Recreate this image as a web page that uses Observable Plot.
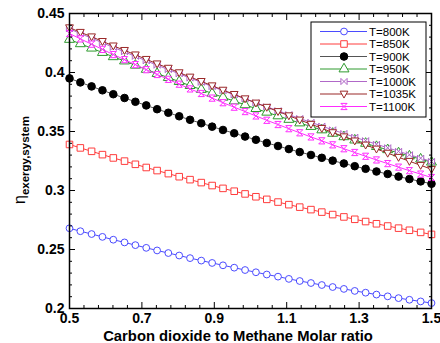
<!DOCTYPE html>
<html><head><meta charset="utf-8">
<script src="https://cdn.jsdelivr.net/npm/d3@7"></script>
<script src="https://cdn.jsdelivr.net/npm/@observablehq/plot@0.6"></script>
<style>body{margin:0;background:#fff;} #c{position:relative;width:440px;height:343px;}</style>
</head><body><div id="c"></div>
<script>
const ratio = [0.5,0.530,0.561,0.591,0.621,0.652,0.682,0.712,0.742,0.773,0.803,0.833,0.864,0.894,0.924,0.955,0.985,1.015,1.045,1.076,1.106,1.136,1.167,1.197,1.227,1.258,1.288,1.318,1.348,1.379,1.409,1.439,1.470,1.5];
const T800 = [0.2680,0.2655,0.2631,0.2607,0.2583,0.2560,0.2537,0.2514,0.2492,0.2470,0.2449,0.2427,0.2406,0.2386,0.2366,0.2346,0.2326,0.2307,0.2288,0.2270,0.2251,0.2233,0.2216,0.2199,0.2182,0.2166,0.2149,0.2134,0.2118,0.2103,0.2088,0.2074,0.2060,0.2046];
const T850 = [0.3390,0.3361,0.3332,0.3304,0.3276,0.3249,0.3222,0.3195,0.3169,0.3143,0.3117,0.3092,0.3067,0.3042,0.3018,0.2994,0.2971,0.2947,0.2925,0.2902,0.2880,0.2859,0.2838,0.2817,0.2796,0.2776,0.2756,0.2737,0.2718,0.2699,0.2681,0.2663,0.2645,0.2628];
const T900 = [0.3950,0.3916,0.3882,0.3849,0.3816,0.3784,0.3752,0.3721,0.3689,0.3659,0.3629,0.3599,0.3570,0.3541,0.3513,0.3485,0.3457,0.3430,0.3403,0.3377,0.3351,0.3326,0.3301,0.3277,0.3253,0.3229,0.3206,0.3184,0.3161,0.3140,0.3118,0.3097,0.3077,0.3057];
const T950 = [0.4280,0.4243,0.4206,0.4169,0.4133,0.4097,0.4061,0.4026,0.3991,0.3957,0.3923,0.3889,0.3856,0.3823,0.3790,0.3758,0.3726,0.3694,0.3663,0.3632,0.3602,0.3572,0.3542,0.3513,0.3484,0.3455,0.3427,0.3399,0.3372,0.3345,0.3318,0.3292,0.3266,0.3240];
const T1000 = [0.4370,0.4330,0.4291,0.4252,0.4213,0.4175,0.4137,0.4099,0.4062,0.4025,0.3989,0.3953,0.3917,0.3881,0.3846,0.3811,0.3777,0.3743,0.3709,0.3676,0.3643,0.3610,0.3578,0.3546,0.3514,0.3483,0.3452,0.3422,0.3392,0.3362,0.3332,0.3303,0.3274,0.3246];
const T1035 = [0.4380,0.4341,0.4303,0.4264,0.4226,0.4188,0.4150,0.4112,0.4074,0.4037,0.3999,0.3962,0.3925,0.3888,0.3851,0.3815,0.3778,0.3742,0.3706,0.3670,0.3634,0.3598,0.3562,0.3527,0.3491,0.3456,0.3421,0.3386,0.3352,0.3317,0.3282,0.3248,0.3214,0.3180];
const T1100 = [0.4330,0.4285,0.4240,0.4196,0.4152,0.4109,0.4067,0.4024,0.3983,0.3942,0.3901,0.3861,0.3822,0.3783,0.3744,0.3706,0.3669,0.3632,0.3595,0.3559,0.3524,0.3489,0.3454,0.3421,0.3387,0.3354,0.3322,0.3290,0.3259,0.3228,0.3198,0.3168,0.3139,0.3110];
const seriesNames = ["T=800K","T=850K","T=900K","T=950K","T=1000K","T=1035K","T=1100K"];
const xMajorTicks = [0.5,0.7,0.9,1.1,1.3,1.5];
const xMinorTicks = [0.54,0.58,0.62,0.66,0.74,0.78,0.82,0.86,0.94,0.98,1.02,1.06,1.14,1.18,1.22,1.26,1.34,1.38,1.42,1.46];
const yMajorTicks = [0.2,0.25,0.3,0.35,0.4,0.45];
const yMinorTicks = [0.21,0.22,0.23,0.24,0.26,0.27,0.28,0.29,0.31,0.32,0.33,0.34,0.36,0.37,0.38,0.39,0.41,0.42,0.43,0.44];
const xTitle = "Carbon dioxide to Methane Molar ratio";
const yTitleMain = "η";
const yTitleSub = "exergy,system";

const seriesValues = [T800,T850,T900,T950,T1000,T1035,T1100];

// custom symbols
const triDown = {draw(ctx, size){const r=Math.sqrt(size)*0.62; ctx.moveTo(0,r); ctx.lineTo(r*0.95,-r*0.7); ctx.lineTo(-r*0.95,-r*0.7); ctx.closePath();}};
const bowtieH = {draw(ctx, size){const r=Math.sqrt(size)*0.5; ctx.moveTo(-r,-r); ctx.lineTo(r,r); ctx.lineTo(r,-r); ctx.lineTo(-r,r); ctx.closePath();}};
const hourglass = {draw(ctx, size){const r=Math.sqrt(size)*0.5; ctx.moveTo(-r,-r); ctx.lineTo(r,-r); ctx.lineTo(-r,r); ctx.lineTo(r,r); ctx.closePath();}};

const styles = [
  {color:"#4b4bff", symbol:"circle", fill:"white", r:3.4},
  {color:"#ff3c3c", symbol:"square", fill:"white", r:3.7},
  {color:"#000000", symbol:"circle", fill:"black", r:3.8, line:"#555"},
  {color:"#2e9a2e", symbol:"triangle", fill:"white", r:3.7},
  {color:"#b068c8", symbol:bowtieH, fill:"white", r:3.5},
  {color:"#9a2828", symbol:triDown, fill:"white", r:3.7},
  {color:"#ff2cff", symbol:hourglass, fill:"white", r:3.5}
];

const tables = seriesValues.map((vals, k) => ratio.map((x, i) => ({x, y: vals[i], s: seriesNames[k]})));

const font = "'Liberation Sans', Arial, sans-serif";
const marks = [];
tables.forEach((tb, k) => {
  const st = styles[k];
  marks.push(Plot.line(tb, {x:"x", y:"y", stroke: st.line || st.color, strokeWidth: 1}));
  marks.push(Plot.dot(tb, {x:"x", y:"y", symbol: st.symbol, r: st.r, stroke: st.color, fill: st.fill, strokeWidth: 1}));
});

const noText = () => "";
const plot = Plot.plot({
  width: 440, height: 343,
  marginLeft: 69, marginRight: 9, marginTop: 13, marginBottom: 35,
  style: {fontFamily: font, background: "white"},
  x: {domain: [0.5, 1.5], label: null},
  y: {domain: [0.2, 0.45], label: null},
  marks: [
    ...marks,
    Plot.axisX({anchor:"bottom", ticks: xMajorTicks, tickSize: -6, tickFormat: noText, label: null}),
    Plot.axisX({anchor:"bottom", ticks: xMinorTicks, tickSize: -3, tickFormat: noText, label: null}),
    Plot.axisX({anchor:"top", ticks: xMajorTicks, tickSize: -6, tickFormat: noText, label: null}),
    Plot.axisX({anchor:"top", ticks: xMinorTicks, tickSize: -3, tickFormat: noText, label: null}),
    Plot.axisY({anchor:"left", ticks: yMajorTicks, tickSize: -6, tickFormat: noText, label: null}),
    Plot.axisY({anchor:"left", ticks: yMinorTicks, tickSize: -3, tickFormat: noText, label: null}),
    Plot.axisY({anchor:"right", ticks: yMajorTicks, tickSize: -6, tickFormat: noText, label: null}),
    Plot.axisY({anchor:"right", ticks: yMinorTicks, tickSize: -3, tickFormat: noText, label: null}),
    Plot.axisX({anchor:"bottom", ticks: xMajorTicks, tickSize: 0, tickPadding: 5, tickFormat: d3.format("~g"), fontSize: 14, fontWeight: "bold", fill: "black", label: null}),
    Plot.axisY({anchor:"left", ticks: yMajorTicks, tickSize: 0, tickPadding: 5, tickFormat: d3.format("~g"), fontSize: 14, fontWeight: "bold", fill: "black", label: null}),
    Plot.frame({stroke: "black", strokeWidth: 1.5})
  ]
});
document.getElementById("c").appendChild(plot);

const svg = d3.select(plot);
// drop the empty label texts of the tick-only axes
svg.selectAll("text").filter(function(){ return this.textContent === ""; }).remove();

// x-axis title
svg.append("text").attr("x", 238).attr("y", 341).attr("text-anchor", "middle")
  .attr("font-family", font).attr("font-size", 14.8).attr("font-weight", "bold").attr("fill", "black").text(xTitle);

// y-axis title with subscript
const yt = svg.append("text").attr("transform", "translate(25,160) rotate(-90)")
  .attr("text-anchor", "middle").attr("font-family", font).attr("fill", "black");
yt.append("tspan").attr("font-size", 16).text(yTitleMain);
yt.append("tspan").attr("font-size", 11.5).attr("font-weight", "bold").attr("dy", 4).text(yTitleSub);

// legend
const lg = svg.append("g").attr("font-family", font);
lg.append("rect").attr("x", 311).attr("y", 22).attr("width", 115).attr("height", 95)
  .attr("fill", "white").attr("stroke", "black").attr("stroke-width", 1);
const rowsY = [31.5, 44, 56.5, 69, 81.5, 94, 106.5];
const symMap = {circle: d3.symbolCircle, square: d3.symbolSquare, triangle: d3.symbolTriangle};
seriesNames.forEach((name, k) => {
  const st = styles[k]; const yy = rowsY[k];
  lg.append("line").attr("x1", 320).attr("x2", 367).attr("y1", yy).attr("y2", yy)
    .attr("stroke", st.line || st.color).attr("stroke-width", 1);
  const type = typeof st.symbol === "string" ? symMap[st.symbol] : st.symbol;
  lg.append("path").attr("transform", `translate(344,${yy})`)
    .attr("d", d3.symbol().type(type).size(Math.PI * st.r * st.r)())
    .attr("fill", st.fill).attr("stroke", st.color).attr("stroke-width", 1);
  lg.append("text").attr("x", 369).attr("y", yy).attr("dy", "0.35em").attr("text-anchor", "start")
    .attr("font-size", 11.5).attr("fill", "black").text(name);
});
</script></body></html>
